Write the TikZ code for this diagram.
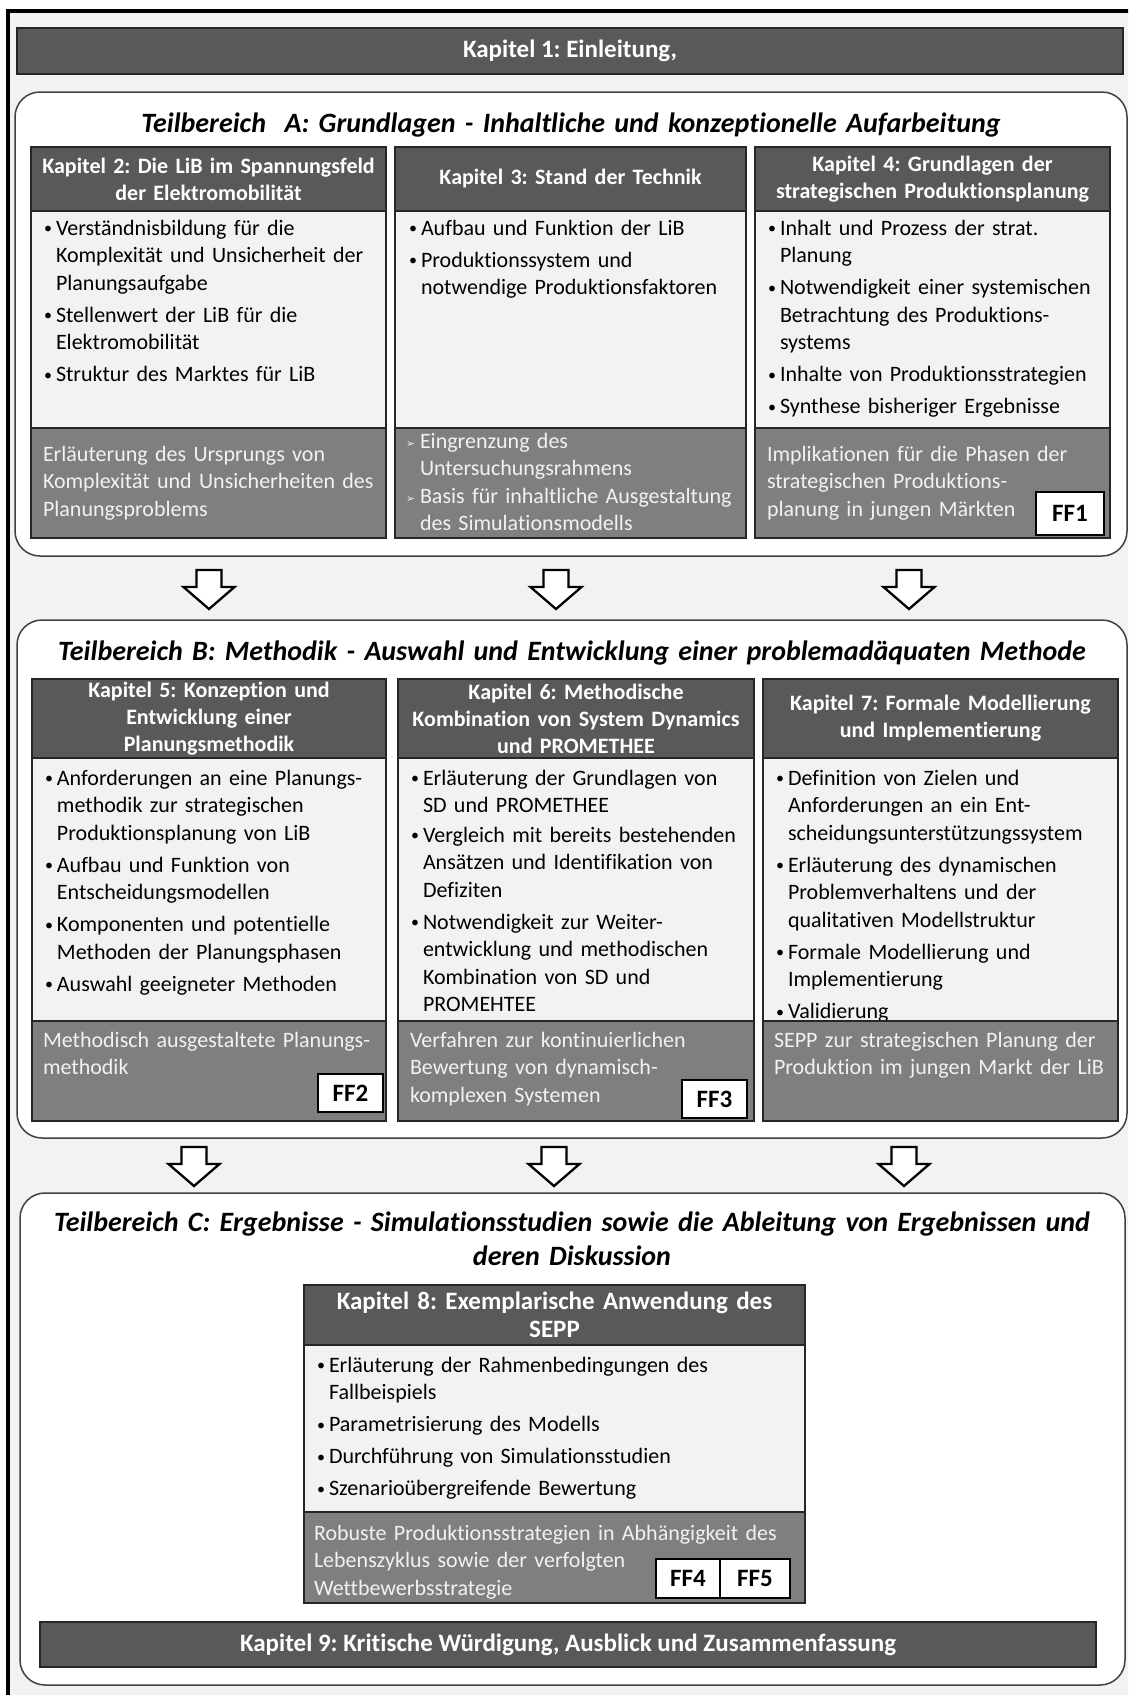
\documentclass[tikz,border=0pt]{standalone}
\usepackage{fontspec}
\setmainfont{Carlito}[Ligatures=NoCommon]
\newfontfamily\symfont{DejaVu Sans}
\definecolor{pagegray}{HTML}{F2F2F2}
\definecolor{hdrgray}{HTML}{595959}
\definecolor{footgray}{HTML}{7F7F7F}
\definecolor{boxline}{HTML}{262626}
\definecolor{secline}{HTML}{404040}
\frenchspacing
% bullet helpers for the box texts
\newcommand\bul{\makebox[12pt][l]{\raisebox{1.5pt}{\fontsize{16}{16}\selectfont\textbullet}}}
\newcommand\cont{\hspace*{12pt}}
\newcommand\arrbul{\makebox[14pt][l]{\raisebox{1pt}{\symfont\fontsize{11}{11}\selectfont ➢}}}
\newcommand\contar{\hspace*{14pt}}
% outlined block arrow pointing down: centre x, top y
\newcommand\blockarrow[2]{%
  \draw[blockarrow] (#1-12.5,#2) -- (#1+12.5,#2) -- (#1+12.5,#2+17) -- (#1+25.5,#2+17)
    -- (#1,#2+39) -- (#1-25.5,#2+17) -- (#1-12.5,#2+17) -- cycle;}
\begin{document}
\begin{tikzpicture}[x=1pt,y=-1pt,
  every node/.style={inner sep=0pt,outer sep=0pt},
  box/.style={anchor=north west,line width=1.5pt,draw=boxline},
  bar/.style={box,fill=hdrgray,text=white,font=\fontsize{25}{30}\selectfont\bfseries},
  hdr/.style={box,fill=hdrgray,text=white,align=center,font=\fontsize{22}{27}\selectfont\bfseries},
  bodybox/.style={box,fill=pagegray},
  footbox/.style={box,fill=footgray},
  section/.style={anchor=north west,draw=secline,fill=white,line width=1.5pt,rounded corners=25pt},
  bodytxt/.style={anchor=base west,text width=400pt,align=left,font=\fontsize{22}{27.5}\selectfont,text=black},
  foottxt/.style={anchor=base west,text width=500pt,align=left,font=\fontsize{22}{27.5}\selectfont,text=pagegray},
  title/.style={anchor=base,text width=1100pt,align=center,font=\fontsize{28}{34}\selectfont\bfseries\itshape},
  ffbox/.style={draw=black,fill=white,line width=2.5pt,font=\fontsize{25}{25}\selectfont\bfseries},
  blockarrow/.style={draw=black,fill=white,line width=2.3pt,line join=miter},
]
\useasboundingbox (0,0) rectangle (1128,1695);
\clip (0,0) rectangle (1128,1695);
\fill[white] (0,0) rectangle (1128,1695);

% outer frame
\draw[line width=4pt,fill=pagegray] (8,11) rectangle (1160,1730);

% chapter 1
\node[bar,minimum width=1106pt,minimum height=46pt] (k1) at (17,28) {Kapitel 1: Einleitung,};

% ---------------- part A ----------------
\node[section,minimum width=1112pt,minimum height=464pt] (secA) at (15,92) {};
\node[title] (titA) at (571,132.5) {Teilbereich\ \ A: Grundlagen - Inhaltliche und konzeptionelle Aufarbeitung};

% column 1
\node[hdr,minimum width=355pt,minimum height=64pt,text width=345pt] (a1h) at (31,147) {Kapitel 2: Die LiB im Spannungsfeld\\der Elektromobilität};
\node[bodybox,minimum width=355pt,minimum height=217pt] (a1b) at (31,211) {};
\node[footbox,minimum width=355pt,minimum height=110pt] (a1f) at (31,428) {};
\node[bodytxt] (a1bt) at (44,235) {\bul Verständnisbildung für die\\\cont Komplexität und Unsicherheit der\\\cont Planungsaufgabe\\[4.5pt]\bul Stellenwert der LiB für die\\\cont Elektromobilität\\[4.5pt]\bul Struktur des Marktes für LiB};
\node[foottxt] (a1ft) at (43,461) {Erläuterung des Ursprungs von\\Komplexität und Unsicherheiten des\\Planungsproblems};

% column 2
\node[hdr,minimum width=351pt,minimum height=64pt,text width=341pt] (a2h) at (395,147) {Kapitel 3: Stand der Technik};
\node[bodybox,minimum width=351pt,minimum height=217pt] (a2b) at (395,211) {};
\node[footbox,minimum width=351pt,minimum height=110pt] (a2f) at (395,428) {};
\node[bodytxt] (a2bt) at (409,235) {\bul Aufbau und Funktion der LiB\\[4.5pt]\bul Produktionssystem und\\\cont notwendige Produktionsfaktoren};
\node[foottxt] (a2ft) at (406,448) {\arrbul Eingrenzung des\\\contar Untersuchungsrahmens\\\arrbul Basis für inhaltliche Ausgestaltung\\\contar des Simulationsmodells};

% column 3
\node[hdr,minimum width=355pt,minimum height=64pt,text width=345pt] (a3h) at (755,147) {Kapitel 4: Grundlagen der\\strategischen Produktionsplanung};
\node[bodybox,minimum width=355pt,minimum height=217pt] (a3b) at (755,211) {};
\node[footbox,minimum width=355pt,minimum height=110pt] (a3f) at (755,428) {};
\node[bodytxt] (a3bt) at (768,235) {\bul Inhalt und Prozess der strat.\\\cont Planung\\[4.5pt]\bul Notwendigkeit einer systemischen\\\cont Betrachtung des Produktions-\\\cont systems\\[4.5pt]\bul Inhalte von Produktionsstrategien\\[4.5pt]\bul Synthese bisheriger Ergebnisse};
\node[foottxt] (a3ft) at (767,461) {Implikationen für die Phasen der\\strategischen Produktions-\\planung in jungen Märkten};
\node[ffbox,minimum width=68pt,minimum height=43pt] (ff1) at (1070,513.5) {FF1};

% arrows A -> B
\blockarrow{209}{570}
\blockarrow{556}{570}
\blockarrow{909}{570}

% ---------------- part B ----------------
\node[section,minimum width=1110pt,minimum height=518pt] (secB) at (17,620) {};
\node[title] (titB) at (572,660) {Teilbereich B: Methodik - Auswahl und Entwicklung einer problemadäquaten Methode};

% column 1
\node[hdr,minimum width=354pt,minimum height=79pt,text width=344pt] (b1h) at (32,679) {Kapitel 5: Konzeption und\\Entwicklung einer\\Planungsmethodik};
\node[bodybox,minimum width=354pt,minimum height=263pt] (b1b) at (32,758) {};
\node[footbox,minimum width=354pt,minimum height=100pt] (b1f) at (32,1021) {};
\node[bodytxt] (b1bt) at (45,785) {\bul Anforderungen an eine Planungs-\\\cont methodik zur strategischen\\\cont Produktionsplanung von LiB\\[4.5pt]\bul Aufbau und Funktion von\\\cont Entscheidungsmodellen\\[4.5pt]\bul Komponenten und potentielle\\\cont Methoden der Planungsphasen\\[4.5pt]\bul Auswahl geeigneter Methoden};
\node[foottxt] (b1ft) at (43,1047) {Methodisch ausgestaltete Planungs-\\methodik};
\node[ffbox,minimum width=65pt,minimum height=38pt] (ff2) at (350.5,1093) {FF2};

% column 2
\node[hdr,minimum width=356pt,minimum height=79pt,text width=346pt] (b2h) at (398,679) {Kapitel 6: Methodische\\Kombination von System Dynamics\\und PROMETHEE};
\node[bodybox,minimum width=356pt,minimum height=263pt] (b2b) at (398,758) {};
\node[footbox,minimum width=356pt,minimum height=100pt] (b2f) at (398,1021) {};
\node[bodytxt] (b2bt) at (411,785) {\bul Erläuterung der Grundlagen von\\\cont SD und PROMETHEE\\[2pt]\bul Vergleich mit bereits bestehenden\\\cont Ansätzen und Identifikation von\\\cont Defiziten\\[4.5pt]\bul Notwendigkeit zur Weiter-\\\cont entwicklung und methodischen\\\cont Kombination von SD und\\\cont PROMEHTEE};
\node[foottxt] (b2ft) at (410,1047) {Verfahren zur kontinuierlichen\\Bewertung von dynamisch-\\komplexen Systemen};
\node[ffbox,minimum width=65pt,minimum height=38pt] (ff3) at (714.5,1099) {FF3};

% column 3
\node[hdr,minimum width=355pt,minimum height=79pt,text width=345pt] (b3h) at (763,679) {Kapitel 7: Formale Modellierung\\und Implementierung};
\node[bodybox,minimum width=355pt,minimum height=263pt] (b3b) at (763,758) {};
\node[bodytxt] (b3bt) at (776,785) {\bul Definition von Zielen und\\\cont Anforderungen an ein Ent-\\\cont scheidungsunterstützungssystem\\[4.5pt]\bul Erläuterung des dynamischen\\\cont Problemverhaltens und der\\\cont qualitativen Modellstruktur\\[4.5pt]\bul Formale Modellierung und\\\cont Implementierung\\[4.5pt]\bul Validierung};
\node[footbox,minimum width=355pt,minimum height=100pt] (b3f) at (763,1021) {};
\node[foottxt] (b3ft) at (774,1047) {SEPP zur strategischen Planung der\\Produktion im jungen Markt der LiB};

% arrows B -> C
\blockarrow{194}{1147}
\blockarrow{554}{1147}
\blockarrow{904}{1147}

% ---------------- part C ----------------
\node[section,minimum width=1105pt,minimum height=492pt] (secC) at (20,1193) {};
\node[title] (titC) at (572,1231) {Teilbereich C: Ergebnisse - Simulationsstudien sowie die Ableitung von Ergebnissen und\\deren Diskussion};

\node[hdr,minimum width=501pt,minimum height=60pt,text width=491pt,font=\fontsize{25}{28.5}\selectfont\bfseries] (c8h) at (304,1285) {Kapitel 8: Exemplarische Anwendung des\\SEPP};
\node[bodybox,minimum width=501pt,minimum height=167pt] (c8b) at (304,1345) {};
\node[footbox,minimum width=501pt,minimum height=91pt] (c8f) at (304,1512) {};
\node[bodytxt] (c8bt) at (317,1372) {\bul Erläuterung der Rahmenbedingungen des\\\cont Fallbeispiels\\[4.5pt]\bul Parametrisierung des Modells\\[4.5pt]\bul Durchführung von Simulationsstudien\\[4.5pt]\bul Szenarioübergreifende Bewertung};
\node[foottxt] (c8ft) at (314,1540) {Robuste Produktionsstrategien in Abhängigkeit des\\Lebenszyklus sowie der verfolgten\\Wettbewerbsstrategie};
\node[ffbox,minimum width=64pt,minimum height=39pt] (ff4) at (688,1578.5) {FF4};
\node[ffbox,minimum width=70pt,minimum height=39pt,anchor=west] (ff5) at (ff4.east) {FF5};

% chapter 9
\node[bar,minimum width=1056pt,minimum height=45pt] (k9) at (40,1622) {Kapitel 9: Kritische Würdigung, Ausblick und Zusammenfassung};
\end{tikzpicture}
\end{document}
